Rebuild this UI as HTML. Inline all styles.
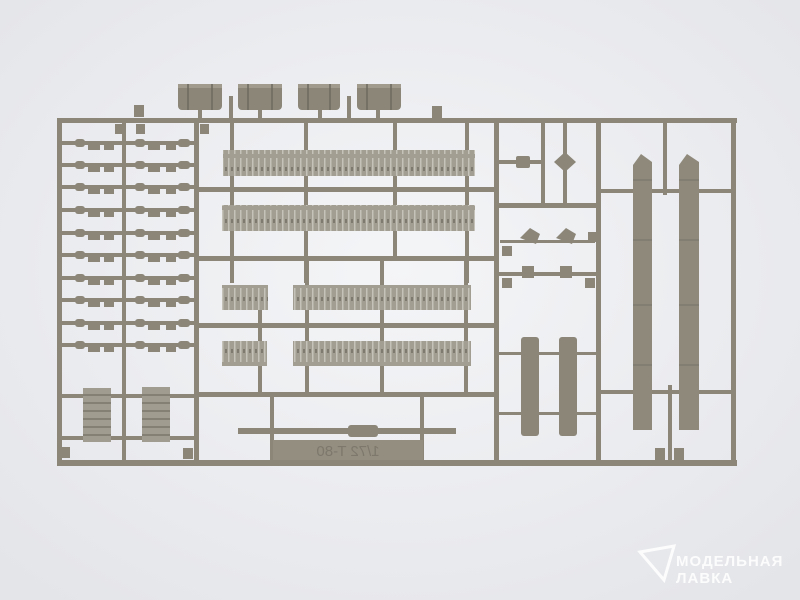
<!DOCTYPE html>
<html><head><meta charset="utf-8"><style>
html,body{margin:0;padding:0;width:800px;height:600px;overflow:hidden;background:#edeef1;}
svg{display:block}
</style></head><body>
<svg width="800" height="600" viewBox="0 0 800 600" xmlns="http://www.w3.org/2000/svg">
<defs>
<radialGradient id="bg" cx="0.5" cy="0.45" r="0.7">
<stop offset="0" stop-color="#f4f5f7"/><stop offset="1" stop-color="#e4e5e9"/>
</radialGradient>
<pattern id="trk" width="6" height="26" patternUnits="userSpaceOnUse">
<rect width="6" height="26" fill="#a29e91"/>
<rect x="0" y="2" width="1.5" height="22" fill="#c4c2b9"/>
<rect x="3" y="11" width="2" height="4" fill="#7e7a6f"/>
</pattern>
</defs>
<rect width="800" height="600" fill="url(#bg)"/>
<g fill="#8b8678">
<rect x="57" y="118" width="680" height="5"/>
<rect x="57" y="460" width="680" height="6"/>
<rect x="57" y="118" width="5" height="348"/>
<rect x="731" y="118" width="5" height="348"/>
<rect x="122" y="123" width="4" height="340"/>
<rect x="194" y="123" width="5" height="340"/>
<rect x="494" y="123" width="5" height="340"/>
<rect x="541" y="123" width="4" height="82"/>
<rect x="596" y="123" width="5" height="340"/>
<rect x="199" y="187" width="296" height="5"/>
<rect x="199" y="256" width="296" height="5"/>
<rect x="199" y="323" width="296" height="5"/>
<rect x="199" y="392" width="296" height="5"/>
<rect x="499" y="203" width="97" height="5"/>
<rect x="230" y="123" width="4" height="160"/>
<rect x="304" y="123" width="4" height="160"/>
<rect x="393" y="123" width="4" height="65"/>
<rect x="465" y="123" width="4" height="160"/>
<rect x="393" y="192" width="4" height="65"/>
<rect x="305" y="261" width="4" height="132"/>
<rect x="380" y="261" width="4" height="132"/>
<rect x="464" y="261" width="4" height="132"/>
<rect x="258" y="300" width="4" height="95"/>
<rect x="270" y="397" width="4" height="64"/>
<rect x="420" y="397" width="4" height="64"/>
<rect x="178" y="84" width="44" height="26" rx="4"/>
<rect x="238" y="84" width="44" height="26" rx="4"/>
<rect x="298" y="84" width="42" height="26" rx="4"/>
<rect x="357" y="84" width="44" height="26" rx="4"/>
<rect x="198" y="108" width="4" height="12"/><rect x="258" y="108" width="4" height="12"/>
<rect x="318" y="108" width="4" height="12"/><rect x="376" y="108" width="4" height="12"/>
<rect x="229" y="96" width="4" height="24"/><rect x="347" y="96" width="4" height="24"/>
<rect x="134" y="105" width="10" height="12"/><rect x="432" y="106" width="10" height="12"/>
<rect x="115" y="124" width="9" height="10"/><rect x="136" y="124" width="9" height="10"/>
<rect x="200" y="124" width="9" height="10"/>
</g>
<g fill="#a09b8d"><rect x="178" y="84" width="44" height="4"/><rect x="238" y="84" width="44" height="4"/><rect x="298" y="84" width="42" height="4"/><rect x="357" y="84" width="44" height="4"/></g>
<g stroke="#6e6a5f" stroke-width="1.5">
<line x1="188" y1="84" x2="188" y2="110"/><line x1="212" y1="84" x2="212" y2="110"/>
<line x1="248" y1="84" x2="248" y2="110"/><line x1="272" y1="84" x2="272" y2="110"/>
<line x1="308" y1="84" x2="308" y2="110"/><line x1="330" y1="84" x2="330" y2="110"/>
<line x1="367" y1="84" x2="367" y2="110"/><line x1="391" y1="84" x2="391" y2="110"/>
</g>
<rect x="223" y="150" width="252" height="26" fill="url(#trk)"/>
<rect x="222" y="205" width="253" height="26" fill="url(#trk)"/>
<rect x="222" y="285" width="46" height="25" fill="url(#trk)"/>
<rect x="293" y="285" width="178" height="25" fill="url(#trk)"/>
<rect x="222" y="341" width="45" height="25" fill="url(#trk)"/>
<rect x="293" y="341" width="178" height="25" fill="url(#trk)"/>
<g fill="#8b8678">
<g id="row">
<rect x="62" y="141" width="60" height="4"/><rect x="126" y="141" width="68" height="4"/>
<rect x="88" y="144" width="12" height="6"/><rect x="104" y="144" width="10" height="6"/>
<rect x="148" y="144" width="12" height="6"/><rect x="166" y="144" width="10" height="6"/>
<rect x="75" y="139" width="10" height="8" rx="3"/><rect x="135" y="139" width="10" height="8" rx="3"/><rect x="178" y="139" width="12" height="8" rx="3"/>
</g>
<use href="#row" y="22"/><use href="#row" y="44"/><use href="#row" y="67"/><use href="#row" y="90"/>
<use href="#row" y="112"/><use href="#row" y="135"/><use href="#row" y="157"/><use href="#row" y="180"/><use href="#row" y="202"/>
<rect x="62" y="394" width="132" height="4"/><rect x="62" y="436" width="132" height="4"/>
<rect x="60" y="447" width="10" height="11"/><rect x="183" y="448" width="10" height="11"/>
</g>
<rect x="83" y="388" width="28" height="54" fill="#a09c8f"/>
<rect x="142" y="387" width="28" height="55" fill="#a09c8f"/>
<g stroke="#7a766a" stroke-width="1.5">
<path d="M83 395h28M83 403h28M83 411h28M83 419h28M83 427h28M83 435h28M142 395h28M142 403h28M142 411h28M142 419h28M142 427h28M142 435h28"/>
</g>
<rect x="238" y="428" width="218" height="6" fill="#8b8678"/>
<rect x="348" y="425" width="30" height="12" rx="3" fill="#8b8678"/>
<rect x="273" y="440" width="150" height="20" fill="#938e80"/>
<text x="348" y="456" font-family="Liberation Sans, sans-serif" font-size="15" fill="#7d786b" text-anchor="middle" transform="translate(696 0) scale(-1 1)">1/72 T-80</text>
<g fill="#8b8678">
<rect x="499" y="160" width="42" height="4"/><rect x="516" y="156" width="14" height="12" rx="2"/>
<rect x="563" y="123" width="4" height="80"/><path d="M565 152l11 10-11 10-11-10z"/>
<rect x="500" y="240" width="95" height="3"/>
<path d="M520 238l10-10 10 6-4 10zM556 238l10-10 10 6-4 10z"/>
<rect x="588" y="232" width="9" height="10"/><rect x="502" y="246" width="10" height="10"/>
<rect x="499" y="272" width="97" height="4"/>
<rect x="522" y="266" width="12" height="12"/><rect x="560" y="266" width="12" height="12"/>
<rect x="502" y="278" width="10" height="10"/><rect x="585" y="278" width="10" height="10"/>
<rect x="499" y="352" width="97" height="3"/><rect x="499" y="412" width="97" height="3"/>
<rect x="521" y="337" width="18" height="99" rx="3"/><rect x="559" y="337" width="18" height="99" rx="3"/>
<rect x="601" y="189" width="130" height="4"/>
<rect x="601" y="390" width="130" height="4"/>
<rect x="663" y="123" width="4" height="72"/>
<rect x="668" y="385" width="4" height="76"/>
<rect x="655" y="448" width="10" height="12"/><rect x="674" y="448" width="10" height="12"/>
</g>
<path d="M633 430V165l8-11 11 8v268z" fill="#8e897b"/>
<path d="M679 430V165l8-11 12 8v268z" fill="#8e897b"/>
<g stroke="#77736a" stroke-width="1"><path d="M633 180h19M633 240h19M633 305h19M633 365h19M679 180h20M679 240h20M679 305h20M679 365h20"/></g>
<g fill="#ffffff" opacity="0.9">
<path d="M640 552l34-6-10 34z" fill="none" stroke="#fff" stroke-width="3"/>
<text x="676" y="566" font-family="Liberation Sans, sans-serif" font-weight="bold" font-size="15" letter-spacing="1">МОДЕЛЬНАЯ</text>
<text x="676" y="583" font-family="Liberation Sans, sans-serif" font-weight="bold" font-size="15" letter-spacing="1">ЛАВКА</text>
</g>
</svg>
</body></html>
